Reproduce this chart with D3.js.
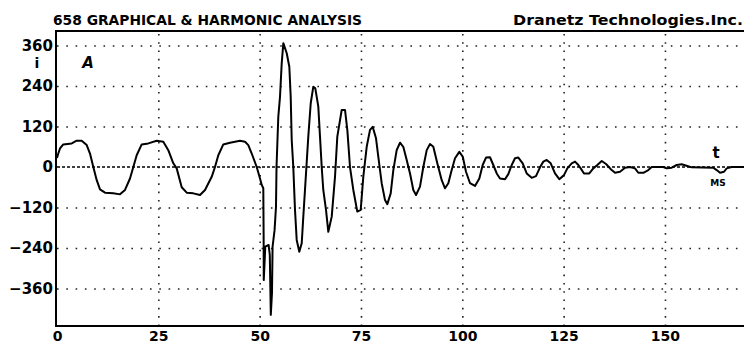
<!DOCTYPE html>
<html>
<head>
<meta charset="utf-8">
<script src="https://cdn.jsdelivr.net/npm/d3@7"></script>
<style>
  html, body { margin: 0; padding: 0; background: #fff; }
  svg { display: block; }
  text { font-family: "DejaVu Sans", sans-serif; font-weight: bold; fill: #000; }
</style>
</head>
<body>
<svg id="chart" width="744" height="346"></svg>
<script>
// Phase current during a capacitor-switching transient (time in ms, current in A)
const timeMs = [
  0, 0.32, 0.74, 1.55, 3.63, 4.86, 6.09, 7.33, 8.14, 8.96, 9.80, 10.61, 11.84, 13.89, 15.54, 16.78, 18.01,
  18.83, 19.66, 20.90, 22.53, 24.60, 26.23, 27.46, 28.70, 29.53, 30.77, 32.00, 33.63, 35.28, 36.52, 38.17,
  38.98, 39.80, 41.03, 42.68, 45.15, 46.39, 47.20, 48.04, 49.27, 50.09, 50.51, 50.90, 50.98, 51.01, 51.39,
  52.21, 52.50, 52.75, 53.04, 53.19, 53.68, 54.03, 54.16, 54.60, 55.02, 55.44, 55.84, 56.68, 57.32, 57.66,
  57.91, 58.30, 58.72, 59.14, 59.78, 60.38, 60.77, 61.44, 62.00, 62.60, 63.24, 63.73, 64.47, 64.89, 65.31,
  65.70, 66.37, 66.94, 67.78, 68.59, 69.16, 70.24, 71.06, 71.63, 72.29, 73.11, 74.09, 74.93, 75.57, 76.41,
  77.23, 77.89, 78.71, 79.27, 80.11, 80.93, 81.50, 82.33, 82.98, 83.81, 84.63, 85.44, 86.28, 87.10, 87.91,
  88.58, 89.56, 90.38, 91.22, 92.03, 92.85, 93.83, 94.92, 95.73, 96.55, 97.38, 98.20, 99.26, 100.10, 100.91,
  101.90, 103.13, 104.20, 105.03, 105.85, 106.83, 107.65, 108.49, 109.30, 110.54, 111.35, 112.19, 113.00,
  113.82, 114.90, 115.89, 117.12, 118.18, 119.17, 119.99, 120.82, 121.81, 122.87, 123.93, 125.09, 125.91,
  126.99, 127.81, 128.62, 129.21, 130.03, 131.33, 132.32, 133.31, 134.40, 135.46, 136.86, 137.68, 138.91,
  140.14, 141.38, 142.61, 143.42, 144.66, 145.89, 146.73, 149.59, 150.43, 151.66, 152.90, 154.13, 155.51,
  156.60, 161.93, 162.76, 163.58, 164.57, 165.23, 166.47, 169.50
];
const currentA = [
  27, 40, 55, 67, 70, 78, 78, 65, 40, 0, -39, -66, -76, -78, -81, -68, -34,
  0, 35, 67, 70, 78, 75, 50, 11, -4, -60, -76, -78, -83, -68, -29,
  0, 35, 67, 72, 78, 75, 65, 40, 0, -34, -53, -63, -200, -335, -236,
  -231, -260, -438, -374, -236, -187, -118, 0, 149, 208, 307, 367, 337, 297, 208,
  80, 0, -127, -216, -251, -226, -147, -19, 90, 189, 238, 233, 179, 90, 0,
  -68, -127, -192, -147, -29, 90, 169, 169, 110, 0, -68, -132, -127, -29, 60,
  110, 119, 85, 31, -48, -98, -110, -78, -9, 50, 72, 60, 21, -19, -68,
  -83, -58, 0, 50, 68, 60, 11, -39, -63, -48, -9, 26, 45, 31, -14,
  -48, -56, -34, 6, 28, 29, 6, -19, -34, -36, -21, 6, 26,
  28, 11, -19, -32, -27, -1, 16, 21, 11, -19, -36, -24, -4,
  11, 16, 6, -4, -19, -19, -4, 6, 18, 9, -9, -17, -14,
  -2, 0, -4, -17, -17, -9, 0, 0, -4, -2, 6, 8, 3,
  -1, -2, -9, -17, -14, -4, 0, 0
];
const xTicks = [0, 25, 50, 75, 100, 125, 150];
const yTicks = [-360, -240, -120, 0, 120, 240, 360];
const titleText = "658 GRAPHICAL & HARMONIC ANALYSIS";
const makerText = "Dranetz Technologies.Inc.";

const svg = d3.select("#chart");
const plotL = 57, plotR = 744, plotT = 31, plotB = 326;

const x = d3.scaleLinear().domain([0, 169.5]).range([plotL, plotR]);
const y = d3.scaleLinear().domain([-471, 403]).range([plotB, plotT]);

// Dotted horizontal grid
const gy = svg.append("g").attr("transform", `translate(${plotL},0)`)
  .call(d3.axisLeft(y).tickValues(yTicks.filter(d => d !== 0)).tickSize(-(plotR - plotL)).tickFormat(""));
gy.select(".domain").remove();
gy.selectAll("line").attr("stroke", "#222").attr("stroke-width", 1.6)
  .attr("stroke-dasharray", "1.6,7.7");

// Dotted vertical grid
const gx = svg.append("g").attr("transform", `translate(0,${plotB})`)
  .call(d3.axisBottom(x).tickValues(xTicks.filter(d => d !== 0)).tickSize(-(plotB - plotT)).tickFormat(""));
gx.select(".domain").remove();
gx.selectAll("line").attr("stroke", "#222").attr("stroke-width", 1.6)
  .attr("stroke-dasharray", "1.6,6.7");

// Dashed zero line
svg.append("line")
  .attr("x1", plotL).attr("x2", plotR).attr("y1", y(0)).attr("y2", y(0))
  .attr("stroke", "#000").attr("stroke-width", 1.4).attr("stroke-dasharray", "3,2");

// Frame: left, bottom and top rules
svg.append("path")
  .attr("d", `M${plotR},${plotT}H${plotL - 1}V${plotB}H${plotR}`)
  .attr("fill", "none").attr("stroke", "#000").attr("stroke-width", 2);

// Axis labels
const yl = svg.append("g").attr("transform", `translate(${plotL},0)`)
  .call(d3.axisLeft(y).tickValues(yTicks).tickSize(0).tickPadding(4));
yl.select(".domain").remove();
yl.selectAll("text").attr("font-size", 15).attr("font-family", "DejaVu Sans").attr("font-weight", "bold").attr("fill", "#000");

const xl = svg.append("g").attr("transform", `translate(0,${plotB})`)
  .call(d3.axisBottom(x).tickValues(xTicks).tickSize(0).tickPadding(5));
xl.select(".domain").remove();
xl.selectAll("text").attr("font-size", 14).attr("font-family", "DejaVu Sans").attr("font-weight", "bold").attr("fill", "#000");

// Waveform
const pts = timeMs.map((t, i) => [t, currentA[i]]);
svg.append("path")
  .datum(pts)
  .attr("fill", "none").attr("stroke", "#000").attr("stroke-width", 2)
  .attr("stroke-linejoin", "round")
  .attr("d", d3.line().x(d => x(d[0])).y(d => y(d[1])));

// Header
svg.append("text").attr("x", 53).attr("y", 25)
  .attr("font-family", "DejaVu Sans Mono").attr("font-size", 14)
  .attr("textLength", 309).attr("lengthAdjust", "spacingAndGlyphs").text(titleText);
svg.append("text").attr("x", 513).attr("y", 25)
  .attr("font-family", "DejaVu Sans Mono").attr("font-size", 14)
  .attr("textLength", 230).attr("lengthAdjust", "spacingAndGlyphs").text(makerText);

// Quantity and unit marks
svg.append("text").attr("x", 37).attr("y", 68).attr("text-anchor", "middle").attr("font-size", 14).text("i");
svg.append("text").attr("x", 88).attr("y", 68).attr("text-anchor", "middle").attr("font-size", 15)
  .attr("font-style", "italic").text("A");
svg.append("text").attr("x", 716).attr("y", 158).attr("text-anchor", "middle").attr("font-size", 15).text("t");
svg.append("text").attr("x", 718).attr("y", 186).attr("text-anchor", "middle").attr("font-size", 9).text("MS");
</script>
</body>
</html>
